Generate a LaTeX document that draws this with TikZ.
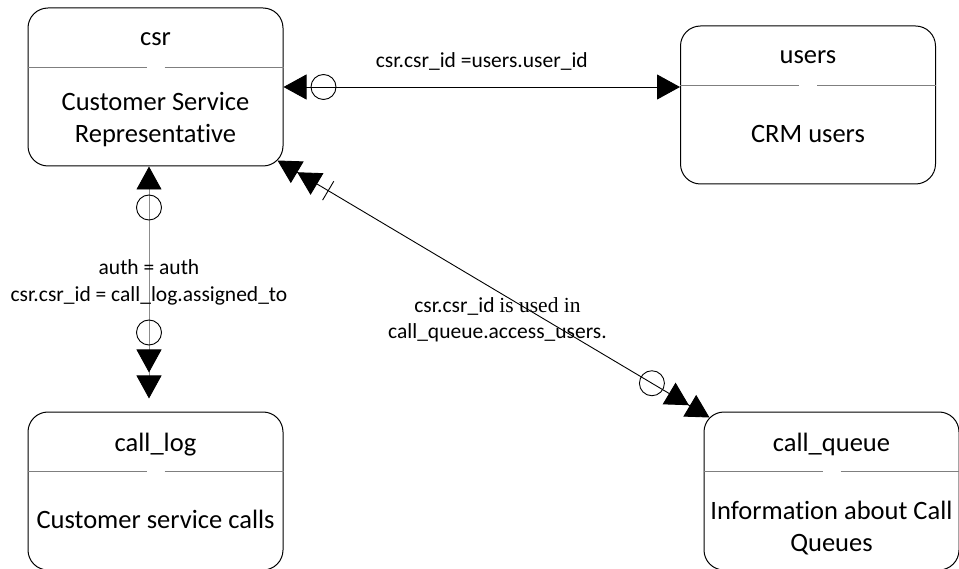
\documentclass[tikz,border=0pt]{standalone}
\usepackage{fontspec}
\setmainfont{Carlito}[Ligatures=NoCommon]
\newfontfamily\timesfont{Liberation Serif}
\usepackage{tikz}
\usetikzlibrary{arrows.meta,calc}
\definecolor{rulegray}{HTML}{7F7F7F}
\definecolor{linkgray}{HTML}{8C8C8C}
\tikzset{
  etip/.tip={Triangle[length=23pt,width=25pt,color=black]},
  entity/.style={draw,rounded corners=20pt,minimum width=255pt,minimum height=158pt,inner sep=0pt,line width=1pt},
  entname/.style={font=\fontsize{26.5}{32}\selectfont},
  entbody/.style={font=\fontsize{26.5}{32}\selectfont,align=center},
  linklabel/.style={font=\fontsize{21.5}{26.5}\selectfont,align=center},
  zero/.style={draw,circle,minimum size=25pt,inner sep=0pt,line width=0.9pt},
  link/.style={line width=0.9pt}
}
\begin{document}
\begin{tikzpicture}[x=1pt,y=-1pt]
\useasboundingbox (0,0) rectangle (959,569);
\node[entity] (csr) at (155.5,87) {};
\node[entity] (users) at (808,105) {};
\node[entity] (log) at (155.5,491) {};
\node[entity] (queue) at (831.5,491) {};
\foreach \e in {csr,users,log,queue}{
  \draw[rulegray,line width=1pt] ([yshift=-60pt]\e.north west) -- ([xshift=-9pt,yshift=-60pt]\e.north);
  \draw[rulegray,line width=1pt] ([xshift=9pt,yshift=-60pt]\e.north) -- ([yshift=-60pt]\e.north east);
}
\node[entname] (csr-name) at ($(csr.north)+(0,32)$) {csr};
\node[entname] (users-name) at ($(users.north)+(0,32)$) {users};
\node[entname] (log-name) at ($(log.north)+(0,33)$) {call\_log};
\node[entname] (queue-name) at ($(queue.north)+(0,33)$) {call\_queue};
\node[entbody] (csr-body) at ($(csr.south)+(0,-47)$) {Customer Service\\Representative};
\node[entbody] (users-body) at ($(users.south)+(0,-50)$) {CRM users};
\node[entbody] (log-body) at ($(log.south)+(0,-51)$) {Customer service calls};
\node[entbody] (queue-body) at ($(queue.south)+(0,-42)$) {Information about Call\\Queues};

\draw[link,{etip}-{etip}] (csr.east) -- node[linklabel,yshift=26pt] (hlabel) {csr.csr\_id =users.user\_id} (csr.east -| users.west);
\node[zero] (hzero) at ($(csr.east)!40pt!(csr.east -| users.west)$) {};

\coordinate (v1) at ([xshift=-6.5pt]csr.south);
\coordinate (v2) at ([xshift=-6.5pt,yshift=13pt]log.north);
\draw[link,linkgray,{etip}-{etip[sep=3pt]etip}] (v1) -- node[linklabel,black] (vlabel) {auth = auth\\csr.csr\_id = call\_log.assigned\_to} (v2);
\node[zero] (vzero1) at ($(v1)!41pt!(v2)$) {};
\node[zero] (vzero2) at ($(v2)!66pt!(v1)$) {};

\coordinate (d1) at ([shift={(-6,-6)}]csr.south east);
\coordinate (d2) at ([shift={(6,6)}]queue.north west);
\draw[link,{etip[]etip}-{etip[sep=1pt]etip}] (d1) -- node[linklabel,xshift=4pt,yshift=-31pt] (dlabel) {csr.csr\_id {\timesfont is used in}\\call\_queue.access\_users.} (d2);
\draw[link] ($(d1)!59pt!(d2)!11pt!90:(d2)$) -- ($(d1)!59pt!(d2)!11pt!-90:(d2)$);
\node[zero] (dzero) at ($(d2)!67pt!(d1)$) {};
\end{tikzpicture}
\end{document}
